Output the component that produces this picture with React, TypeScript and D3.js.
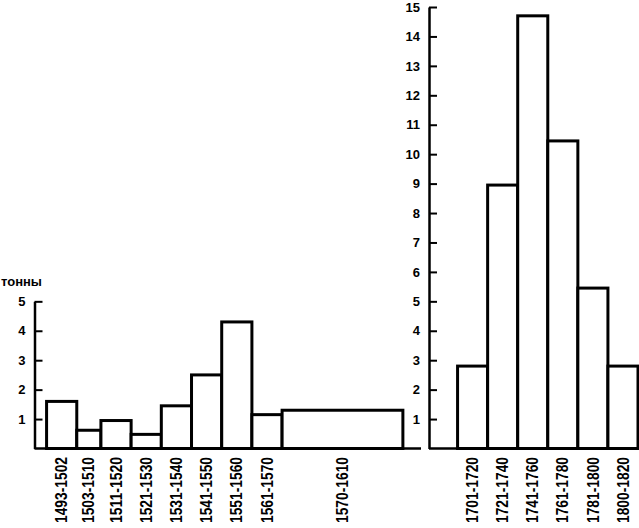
import { useEffect, useRef } from "react";
import * as d3 from "d3";

const W = 639;
const H = 528;

// 1493-1610: periods, bin edges (years) and tonnes
const earlyPeriods = ["1493-1502", "1503-1510", "1511-1520", "1521-1530", "1531-1540", "1541-1550", "1551-1560", "1561-1570", "1570-1610"];
const earlyStart = [1493, 1503, 1511, 1521, 1531, 1541, 1551, 1561, 1571];
const earlyEnd = [1503, 1511, 1521, 1531, 1541, 1551, 1561, 1571, 1611];
const earlyTons = [1.6, 0.62, 0.95, 0.48, 1.45, 2.5, 4.3, 1.15, 1.3];
const earlyTicks = [1, 2, 3, 4, 5];

// 1701-1820
const latePeriods = ["1701-1720", "1721-1740", "1741-1760", "1761-1780", "1781-1800", "1800-1820"];
const lateStart = [1701, 1721, 1741, 1761, 1781, 1801];
const lateEnd = [1721, 1741, 1761, 1781, 1801, 1821];
const lateTons = [2.8, 8.95, 14.7, 10.45, 5.45, 2.8];
const lateTicks = [1, 2, 3, 4, 5, 6, 7, 8, 9, 10, 11, 12, 13, 14, 15];

const unitLabel = "тонны";
const FONT = "'Liberation Sans', Arial, sans-serif";

export default function App() {
  const svgRef = useRef<SVGSVGElement>(null);

  useEffect(() => {
    if (!svgRef.current) return;
    const svg = d3.select(svgRef.current);
    svg.selectAll("*").remove();

    const y = d3.scaleLinear().domain([0, 15]).range([448.5, 7]);
    const yEarly = d3.scaleLinear().domain([0, 5]).range([y(0), y(5)]);
    const xL = d3.scaleLinear().domain([1489, 1617]).range([34.5, 421]);
    const xR = d3.scaleLinear().domain([1682, 1821]).range([429, 638]);

    const drawPanel = (
      x: d3.ScaleLinear<number, number>,
      yAxisScale: d3.ScaleLinear<number, number>,
      ticks: number[],
      labels: string[],
      starts: number[],
      ends: number[],
      values: number[]
    ) => {
      const g = svg.append("g");

      // bars
      g.selectAll("rect")
        .data(values)
        .enter()
        .append("rect")
        .attr("x", (_d, i) => x(starts[i]))
        .attr("width", (_d, i) => x(ends[i]) - x(starts[i]))
        .attr("y", (d) => y(d))
        .attr("height", (d) => y(0) - y(d))
        .attr("fill", "#fff")
        .attr("stroke", "#000")
        .attr("stroke-width", 3);

      // baseline
      g.append("line")
        .attr("x1", x.range()[0])
        .attr("x2", x.range()[1])
        .attr("y1", y(0))
        .attr("y2", y(0))
        .attr("stroke", "#000")
        .attr("stroke-width", 2.5);

      // y axis
      const ax = g.append("g")
        .attr("transform", `translate(${x.range()[0]},0)`)
        .call(
          d3.axisLeft(yAxisScale)
            .tickValues(ticks)
            .tickSize(-8)
            .tickSizeOuter(0)
            .tickPadding(9)
            .tickFormat(d3.format("d"))
        );
      ax.select(".domain").attr("stroke-width", 2.5);
      ax.selectAll(".tick line").attr("stroke-width", 2);
      ax.selectAll(".tick text")
        .attr("font-family", FONT)
        .attr("font-weight", "bold")
        .attr("font-size", 13)
        .attr("fill", "#000");

      // period labels
      g.selectAll("text.period")
        .data(labels)
        .enter()
        .append("text")
        .attr("class", "period")
        .attr("transform", (_d, i) => `translate(${(x(starts[i]) + x(ends[i])) / 2},${y(0) + 8.5}) rotate(-90)`)
        .attr("dy", "0.35em")
        .attr("text-anchor", "end")
        .attr("font-family", FONT)
        .attr("font-weight", "bold")
        .attr("font-size", 16)
        .attr("textLength", 66)
        .attr("lengthAdjust", "spacingAndGlyphs")
        .text((d) => d);
    };

    drawPanel(xL, yEarly, earlyTicks, earlyPeriods, earlyStart, earlyEnd, earlyTons);
    drawPanel(xR, y, lateTicks, latePeriods, lateStart, lateEnd, lateTons);

    svg.append("text")
      .attr("x", 1)
      .attr("y", 286)
      .attr("font-family", FONT)
      .attr("font-weight", "bold")
      .attr("font-size", 13)
      .text(unitLabel);
  }, []);

  return (
    <svg
      ref={svgRef}
      width={W}
      height={H}
      style={{ position: "absolute", left: 0, top: 0, background: "#fff" }}
    />
  );
}
